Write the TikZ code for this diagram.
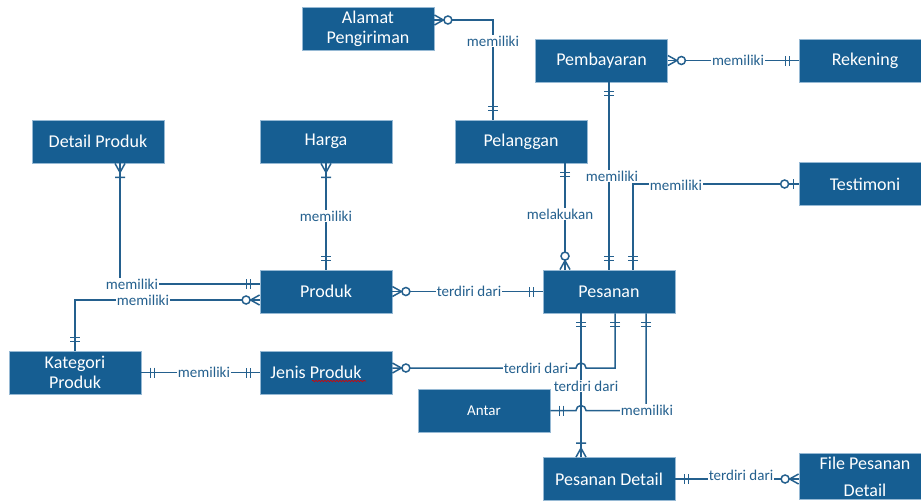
\documentclass[tikz,border=0pt]{standalone}
\usepackage{fontspec}
\setmainfont{Carlito}
\usetikzlibrary{calc,decorations.pathmorphing}
\definecolor{erblue}{RGB}{22,94,146}
\definecolor{erline}{RGB}{36,96,142}
\definecolor{erborder}{RGB}{150,185,212}
\tikzset{
  ent/.style={draw=erborder,line width=0.8pt,fill=erblue,text=white,
    minimum width=132pt,minimum height=43pt,align=center,
    font=\fontsize{18}{20}\selectfont},
  rel/.style={draw=erline,line width=1.5pt},
  lbl/.style={fill=white,inner sep=1pt,text=erline,
    font=\fontsize{15}{16}\selectfont},
  mone/.pic={\draw[rel] (9,-5) -- (9,5) (13,-5) -- (13,5);},
  omany/.pic={\draw[rel] (0,-5) -- (9,0) -- (0,5) (14,-5) -- (14,5);},
  zmany/.pic={\draw[rel] (0,-5) -- (9,0) -- (0,5);
    \draw[rel,fill=white] (13.5,0) circle (4);},
  zone/.pic={\draw[rel] (5,-5) -- (5,5);
    \draw[rel,fill=white] (14,0) circle (4);}
}
\begin{document}
\begin{tikzpicture}[x=1pt,y=-1pt]
\useasboundingbox (0,0) rectangle (921,501);
\clip (0,0) rectangle (921,501);
\node[ent] (alamat) at (368,28.5) {Alamat\\Pengiriman};
\node[ent] (bayar) at (601.5,60.5) {Pembayaran};
\node[ent] (rekening) at (865,60.5) {Rekening};
\node[ent] (detail) at (98,141.5) {Detail Produk};
\node[ent] (harga) at (326,141.5) {Harga};
\node[ent] (pelanggan) at (521,141.5) {Pelanggan};
\node[ent] (testimoni) at (865,184) {Testimoni};
\node[ent] (produk) at (326,291.5) {Produk};
\node[ent] (pesanan) at (609,291.5) {Pesanan};
\node[ent] (kategori) at (75,372.5) {Kategori\\Produk};
\node[ent] (jenis) at (326,372.5) {Jenis Produk\hspace{20pt}};
\node[ent,font=\fontsize{15}{17}\selectfont] (antar) at (484,410.5) {Antar};
\node[ent] (pdetail) at (609,479) {Pesanan Detail};
\node[ent,font=\fontsize{18}{27}\selectfont] (file) at (865,476.5) {File Pesanan\\Detail};
\draw[red!85!black,line width=0.6pt,decorate,
  decoration={snake,amplitude=0.8pt,segment length=3pt}]
  ($(jenis.center)+(-14,8.5)$) -- ($(jenis.center)+(40,8.5)$);

\draw[rel] ($(alamat.east)+(0,-8.5)$) -| ($(pelanggan.north)+(-28,0)$);
\draw[rel] (bayar.east) -- (rekening.west);
\draw[rel] (pesanan.north) -- (pesanan.north |- bayar.south);
\draw[rel] ($(pesanan.north)+(-44,0)$) -- ($(pesanan.north |- pelanggan.south)+(-44,0)$);
\draw[rel] (testimoni.west) -| ($(pesanan.north)+(24,0)$);
\draw[rel] (harga.south) -- (produk.north);
\draw[rel] ($(detail.south)+(22,0)$) |- ($(produk.west)+(0,-7.5)$);
\draw[rel] (kategori.north) |- ($(produk.west)+(0,8.5)$);
\draw[rel] (produk.east) -- (pesanan.west);
\draw[rel] (kategori.east) -- (jenis.west);
\draw[rel] ($(pesanan.south)+(-28,0)$) -- ($(pdetail.north)+(-28,0)$);
\draw[rel] ($(jenis.east)+(0,-4.5)$) -- ($(jenis.east -| pesanan.south)+(-33,-4.5)$)
  arc (180:360:5) -| ($(pesanan.south)+(6,0)$);
\draw[rel] (antar.east) -- ($(antar.east -| pesanan.south)+(-33,0)$)
  arc (180:360:5) -| ($(pesanan.south)+(37,0)$);
\draw[rel] (pdetail.east) -- (pdetail.east -| file.west);

\pic at ($(alamat.east)+(0,-8.5)$) {zmany};
\pic[rotate=90] at ($(pelanggan.north)+(-28,0)$) {mone};
\pic at (bayar.east) {zmany};
\pic[rotate=180] at (rekening.west) {mone};
\pic[rotate=-90] at (pesanan.north |- bayar.south) {mone};
\pic[rotate=90] at (pesanan.north) {mone};
\pic[rotate=-90] at ($(pesanan.north |- pelanggan.south)+(-44,0)$) {mone};
\pic[rotate=90] at ($(pesanan.north)+(-44,0)$) {zmany};
\pic[rotate=180] at (testimoni.west) {zone};
\pic[rotate=90] at ($(pesanan.north)+(24,0)$) {mone};
\pic[rotate=-90] at (harga.south) {omany};
\pic[rotate=90] at (produk.north) {mone};
\pic[rotate=-90] at ($(detail.south)+(22,0)$) {omany};
\pic[rotate=180] at ($(produk.west)+(0,-7.5)$) {mone};
\pic[rotate=90] at (kategori.north) {mone};
\pic[rotate=180] at ($(produk.west)+(0,8.5)$) {zmany};
\pic at (produk.east) {zmany};
\pic[rotate=180] at (pesanan.west) {mone};
\pic at (kategori.east) {mone};
\pic[rotate=180] at (jenis.west) {mone};
\pic at ($(jenis.east)+(0,-4.5)$) {zmany};
\pic[rotate=-90] at ($(pesanan.south)+(6,0)$) {mone};
\pic[rotate=-90] at ($(pesanan.south)+(-28,0)$) {mone};
\pic[rotate=90] at ($(pdetail.north)+(-28,0)$) {omany};
\pic at (antar.east) {mone};
\pic[rotate=-90] at ($(pesanan.south)+(37,0)$) {mone};
\pic at (pdetail.east) {mone};
\pic[rotate=180] at (pdetail.east -| file.west) {zmany};

\node[lbl] (l1) at (493,41) {memiliki};
\node[lbl] (l2) at (738,60.5) {memiliki};
\node[lbl] (l3) at (612,176) {memiliki};
\node[lbl] (l4) at (560,214) {melakukan};
\node[lbl] (l5) at (676,185) {memiliki};
\node[lbl] (l6) at (326,216) {memiliki};
\node[lbl] (l7) at (132,284) {memiliki};
\node[lbl] (l8) at (143,300) {memiliki};
\node[lbl] (l9) at (469,291.5) {terdiri dari};
\node[lbl] (l10) at (204,372.5) {memiliki};
\node[lbl] (l11) at (536,368) {terdiri dari};
\node[lbl] (l12) at (586,386) {terdiri dari};
\node[lbl] (l13) at (647,410.5) {memiliki};
\node[lbl] (l14) at (741,475) {terdiri dari};
\end{tikzpicture}
\end{document}
